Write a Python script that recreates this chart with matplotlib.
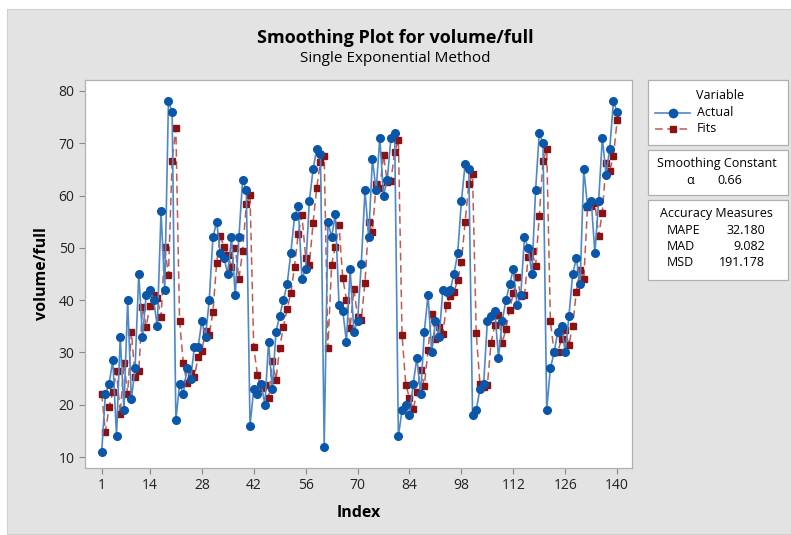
import numpy as np
import matplotlib.pyplot as plt
from matplotlib.patches import Rectangle
from matplotlib.lines import Line2D

plt.rcParams['font.family'] = ['Open Sans', 'DejaVu Sans']

# 实际值
actual = [11, 22, 24, 28.5, 14, 33, 19, 40, 21, 27,
          45, 33, 41, 42, 40, 35, 57, 42, 78, 76,
          17, 24, 22, 27, 25, 31, 31, 36, 33, 40,
          52, 55, 49, 48, 45, 52, 41, 52, 63, 61,
          16, 23, 22, 24, 20, 32, 23, 34, 37, 40,
          43, 49, 56, 58, 44, 46, 59, 65, 69, 68,
          12, 55, 52, 56.5, 39, 38, 32, 46, 34, 36,
          47, 61, 52, 67, 61, 71, 60, 63, 71, 72,
          14, 19, 20, 18, 24, 29, 22, 34, 41, 30,
          36, 33, 42, 41.5, 42, 45, 49, 59, 66, 65,
          18, 19, 23, 24, 36, 37, 38, 29, 36, 40,
          43, 46, 39, 41, 52, 50, 45, 61, 72, 70,
          19, 27, 30, 34, 35, 30, 37, 45, 48, 43,
          65, 58, 59, 49, 59, 71, 64, 69, 78, 76]
alpha = 0.66
mape, mad, msd = '32.180', '9.082', '191.178'
xticks = [1, 14, 28, 42, 56, 70, 84, 98, 112, 126, 140]
yticks = [10, 20, 30, 40, 50, 60, 70, 80]

index = np.arange(1, len(actual) + 1)

# 单指数平滑拟合值: 初始值取前6个观测的均值
fits = []
level = np.mean(actual[:6])
for v in actual:
    fits.append(level)
    level = alpha * v + (1 - alpha) * level

fig = plt.figure(figsize=(7.91, 5.35), dpi=100)
fig.patch.set_facecolor('white')
fig.patches.append(Rectangle((7 / 791, 0.002), 1, 1 - 9 / 535 - 0.002,
                             transform=fig.transFigure, facecolor='#e3e3e3',
                             edgecolor='#d0d0d0', lw=0.8, zorder=-10))

ax = fig.add_axes([85 / 791, 1 - 468 / 535, (632 - 85) / 791, (468 - 80) / 535])
ax.set_facecolor('white')

ax.plot(index, fits, color='#bf5a52', lw=1.1, ls=(0, (5, 3)), zorder=2)
ax.plot(index, fits, ls='none', marker='s', ms=4.2, color='#8b1212', zorder=3)
ax.plot(index, actual, color='#4f88c6', lw=1.2, zorder=4)
ax.plot(index, actual, ls='none', marker='o', ms=5.5, color='#0a56a8', zorder=5)

ax.set_xlim(-3.5, 144)
ax.set_ylim(7.9, 82.1)
ax.set_xticks(xticks)
ax.set_yticks(yticks)
ax.tick_params(labelsize=10, colors='#222222', length=4, width=0.8)
ax.tick_params(axis='both', color='#888888')
for s in ax.spines.values():
    s.set_color('#b0b0b0')
    s.set_linewidth(0.9)

ax.set_xlabel('Index', fontsize=11.5, fontweight='bold', labelpad=8)
ax.set_ylabel('volume/full', fontsize=11.5, fontweight='bold', labelpad=6)

fig.text(0.5, 1 - 38 / 535, 'Smoothing Plot for volume/full', ha='center', va='center',
         fontsize=13, fontweight='bold')
fig.text(0.5, 1 - 59 / 535, 'Single Exponential Method', ha='center', va='center',
         fontsize=11)

# 右侧信息框
def box(y0, y1):
    fig.patches.append(Rectangle((648 / 791, 1 - y1 / 535), (788 - 648) / 791, (y1 - y0) / 535,
                                 transform=fig.transFigure, facecolor='white',
                                 edgecolor='#b0b0b0', lw=0.9))

def fy(y):
    return 1 - y / 535

box(80, 145)
box(150, 195)
box(200, 280)

fig.text(720 / 791, fy(96), 'Variable', ha='center', va='center', fontsize=9)
fig.text(697 / 791, fy(113), 'Actual', ha='left', va='center', fontsize=9)
fig.text(697 / 791, fy(129), 'Fits', ha='left', va='center', fontsize=9)
fig.add_artist(Line2D([655 / 791, 690 / 791], [fy(113), fy(113)], transform=fig.transFigure,
                      color='#4f88c6', lw=1.2))
fig.add_artist(Line2D([672.5 / 791], [fy(113)], transform=fig.transFigure,
                      ls='none', marker='o', ms=6, color='#0a56a8'))
fig.add_artist(Line2D([655 / 791, 690 / 791], [fy(129), fy(129)], transform=fig.transFigure,
                      color='#bf5a52', lw=1.1, ls=(0, (5, 3))))
fig.add_artist(Line2D([672.5 / 791], [fy(129)], transform=fig.transFigure,
                      ls='none', marker='s', ms=5, color='#8b1212'))

fig.text(717 / 791, fy(164), 'Smoothing Constant', ha='center', va='center', fontsize=9)
fig.text(690 / 791, fy(180), '\u03b1', ha='center', va='center', fontsize=9)
fig.text(742 / 791, fy(180), f'{alpha:.2f}', ha='right', va='center', fontsize=9)

fig.text(716 / 791, fy(214), 'Accuracy Measures', ha='center', va='center', fontsize=9)
for k, (name, val) in enumerate([('MAPE', mape), ('MAD', mad), ('MSD', msd)]):
    fig.text(667 / 791, fy(230 + 16 * k), name, ha='left', va='center', fontsize=9)
    fig.text(765 / 791, fy(230 + 16 * k), val, ha='right', va='center', fontsize=9)

fig.savefig('out.png', dpi=100)
